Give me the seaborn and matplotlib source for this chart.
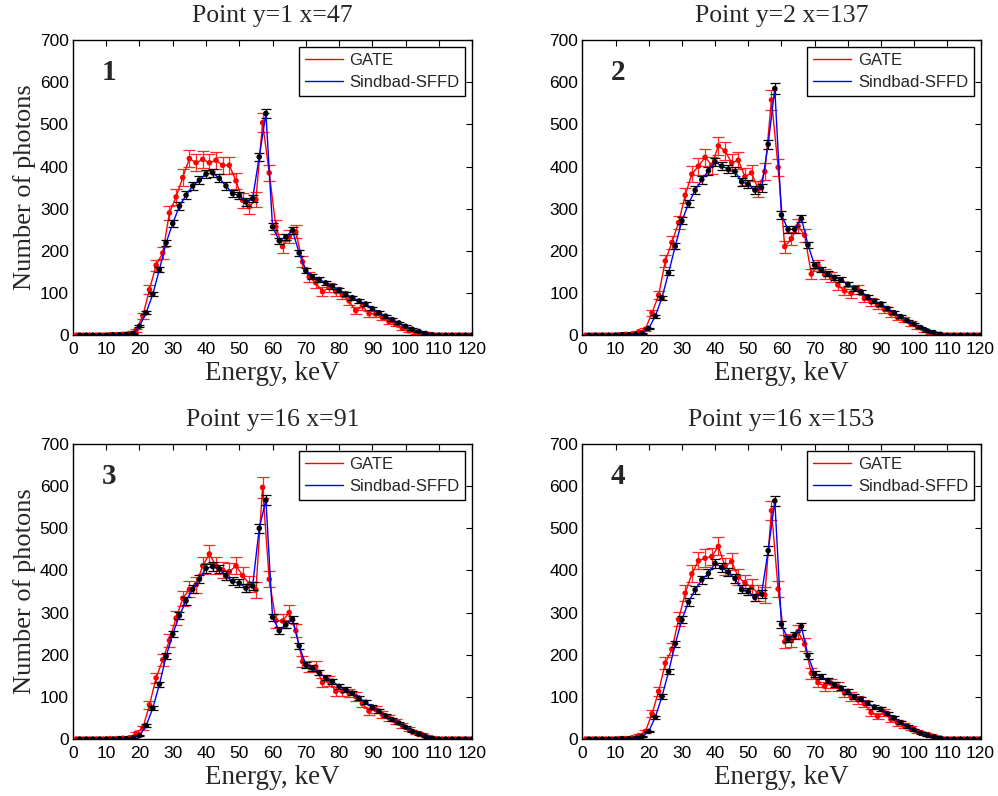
import numpy as np
import pandas as pd
import matplotlib
matplotlib.use('Agg')
import matplotlib.pyplot as plt
import seaborn as sns

# energies (keV): GATE points on odd keV, Sindbad-SFFD on even keV
e_gate = np.arange(1, 121, 2)
e_sind = np.arange(2, 121, 2)

titles = ['Point y=1 x=47', 'Point y=2 x=137', 'Point y=16 x=91', 'Point y=16 x=153']
panel_nums = ['1', '2', '3', '4']

# panel 1
gate_1 = [0, 0, 0, 0, 0, 1, 1, 2, 4, 12, 46, 108, 166, 195, 290, 328, 374, 419, 409, 417,
          409, 415, 403, 403, 366, 320, 305, 322, 504, 385, 257, 210, 233, 245, 174, 138,
          124, 103, 113, 103, 95, 81, 58, 69, 51, 50, 42, 32, 26, 16, 10, 6, 4, 2, 0,
          0, 0, 0, 0, 0]
sind_1 = [0, 0, 0, 0, 0, 1, 1, 2, 4, 21, 53, 97, 156, 219, 265, 306, 332, 354, 368, 382,
          385, 372, 354, 336, 331, 316, 324, 423, 526, 257, 224, 233, 248, 195, 153, 138,
          132, 124, 116, 107, 97, 89, 81, 74, 63, 53, 45, 37, 29, 21, 14, 9, 4, 1, 0,
          0, 0, 0, 0, 0]
# panel 2
gate_2 = [0, 0, 0, 0, 0, 1, 2, 3, 8, 14, 53, 95, 176, 220, 267, 332, 382, 401, 422, 403,
          449, 437, 409, 415, 376, 385, 346, 388, 558, 398, 210, 229, 259, 237, 145, 166,
          144, 138, 119, 105, 99, 108, 87, 79, 71, 61, 51, 42, 36, 28, 18, 12, 6, 2, 0,
          0, 0, 0, 0, 0]
sind_2 = [0, 0, 0, 0, 0, 1, 1, 2, 4, 16, 45, 89, 148, 211, 271, 312, 344, 369, 390, 411,
          401, 394, 388, 364, 358, 344, 350, 453, 585, 285, 251, 251, 277, 214, 166, 156,
          146, 137, 131, 121, 111, 103, 91, 81, 74, 63, 53, 44, 34, 26, 18, 10, 6, 2, 0,
          0, 0, 0, 0, 0]
# panel 3
gate_3 = [0, 0, 0, 0, 0, 1, 1, 2, 3, 14, 26, 81, 145, 188, 234, 287, 334, 355, 366, 411,
          439, 411, 401, 397, 411, 388, 368, 354, 597, 379, 281, 280, 300, 257, 184, 171,
          171, 134, 137, 113, 113, 109, 101, 84, 66, 70, 58, 50, 42, 32, 24, 16, 10, 4, 1,
          0, 0, 0, 0, 0]
sind_3 = [0, 0, 0, 0, 0, 0, 1, 1, 2, 8, 32, 73, 130, 196, 249, 293, 328, 355, 379, 405,
          409, 404, 388, 374, 370, 358, 363, 500, 567, 289, 257, 271, 284, 221, 176, 168,
          158, 145, 137, 125, 117, 109, 97, 87, 76, 66, 55, 46, 38, 28, 18, 12, 6, 2, 0,
          0, 0, 0, 0, 0]
# panel 4
gate_4 = [0, 0, 0, 0, 0, 1, 1, 3, 8, 18, 60, 113, 180, 213, 284, 346, 392, 423, 429, 433,
          457, 409, 421, 384, 371, 360, 346, 342, 542, 356, 231, 234, 255, 225, 156, 134,
          125, 132, 125, 109, 101, 93, 84, 63, 54, 63, 47, 38, 32, 26, 18, 12, 8, 3, 0,
          0, 0, 0, 0, 0]
sind_4 = [0, 0, 0, 0, 0, 1, 1, 2, 5, 18, 52, 101, 160, 226, 283, 325, 354, 378, 393, 417,
          407, 396, 381, 355, 350, 336, 344, 447, 565, 272, 237, 246, 267, 198, 154, 148,
          139, 129, 121, 113, 101, 95, 85, 76, 71, 60, 50, 39, 30, 22, 14, 9, 5, 2, 0,
          0, 0, 0, 0, 0]

gates = [gate_1, gate_2, gate_3, gate_4]
sinds = [sind_1, sind_2, sind_3, sind_4]

sns.set_style('white')
plt.rcParams['font.family'] = ['Liberation Sans', 'DejaVu Sans']
serif = ['Liberation Serif', 'DejaVu Serif']

fig = plt.figure(figsize=(9.98, 7.96), dpi=100)
# axes rectangles in figure fractions
rects = [[0.0731, 0.579, 0.400, 0.3706],
         [0.5835, 0.579, 0.399, 0.3706],
         [0.0731, 0.0716, 0.400, 0.3706],
         [0.5835, 0.0716, 0.399, 0.3706]]

for i in range(4):
    ax = fig.add_axes(rects[i])
    g = np.array(gates[i], dtype=float)
    s = np.array(sinds[i], dtype=float)
    df_g = pd.DataFrame({'energy': e_gate, 'count': g})
    df_s = pd.DataFrame({'energy': e_sind, 'count': s})

    # poisson-like error bars
    ax.errorbar(e_gate, g, yerr=np.sqrt(g), fmt='none', ecolor=(1, 0.15, 0.15),
                elinewidth=0.9, capsize=4.3, capthick=0.9, zorder=2)
    sns.lineplot(data=df_g, x='energy', y='count', ax=ax, color='red', linewidth=1.0,
                 label='GATE', zorder=3)
    sns.scatterplot(data=df_g, x='energy', y='count', ax=ax, color='red', s=16,
                    edgecolor='none', zorder=3, legend=False)
    ax.errorbar(e_sind, s, yerr=0.5 * np.sqrt(s), fmt='none', ecolor='black',
                elinewidth=0.9, capsize=3.6, capthick=0.9, zorder=4)
    sns.lineplot(data=df_s, x='energy', y='count', ax=ax, color='blue', linewidth=1.0,
                 label='Sindbad-SFFD', zorder=5)
    sns.scatterplot(data=df_s, x='energy', y='count', ax=ax, color='black', s=16,
                    edgecolor='none', zorder=6, legend=False)

    ax.set_xlim(0, 120)
    ax.set_ylim(0, 700)
    ax.set_xticks(np.arange(0, 121, 10))
    ax.set_yticks(np.arange(0, 701, 100))
    ax.tick_params(direction='in', top=True, right=True, length=4, width=0.8,
                   labelsize=12.5, pad=3, colors='black')
    ax.tick_params(axis='x', pad=5)
    for sp in ax.spines.values():
        sp.set_color('black')
        sp.set_linewidth(1.0)
    ax.set_title(titles[i], fontsize=18.5, family=serif, pad=13)
    ax.set_xlabel('Energy, keV', fontsize=19.5, family=serif, labelpad=3)
    if i % 2 == 0:
        ax.set_ylabel('Number of photons', fontsize=19, family=serif, labelpad=3)
    else:
        ax.set_ylabel('')
    ax.text(0.09, 0.89, panel_nums[i], transform=ax.transAxes, fontsize=21,
            family=serif, fontweight='bold', ha='center', va='center')
    leg = ax.legend(loc='upper right', fontsize=12, frameon=True, fancybox=False,
                    edgecolor='black', framealpha=1, borderaxespad=0.4,
                    handlelength=2.3, handletextpad=0.4, borderpad=0.35, labelspacing=0.45)
    leg.get_frame().set_linewidth(1.0)

fig.savefig('out.png', dpi=100)
